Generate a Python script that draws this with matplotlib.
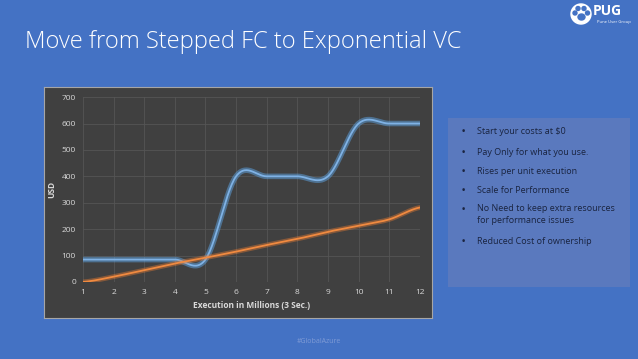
import numpy as np
import matplotlib
matplotlib.use("Agg")
import matplotlib.pyplot as plt
import matplotlib.patheffects as pe
from matplotlib.patches import Circle, Ellipse

plt.rcParams['font.family'] = ['Open Sans', 'DejaVu Sans']

# data
executions = [1, 2, 3, 4, 5, 6, 7, 8, 9, 10, 11, 12]
fixed_cost = [85, 85, 85, 85, 85, 400, 400, 400, 400, 600, 600, 600]
variable_cost = [0, 20, 45, 70, 92, 115, 140, 163, 190, 213, 237, 282]
y_ticks = [0, 100, 200, 300, 400, 500, 600, 700]
bullets = [
    "Start your costs at $0",
    "Pay Only for what you use.",
    "Rises per unit execution",
    "Scale for Performance",
    "No Need to keep extra resources\nfor performance issues",
    "Reduced Cost of ownership",
]

BG = "#4472C4"


def smooth(x, y, n=30):
    # excel style smoothed line (catmull-rom through the points)
    x = np.asarray(x, float)
    y = np.asarray(y, float)
    px = np.concatenate([[2 * x[0] - x[1]], x, [2 * x[-1] - x[-2]]])
    py = np.concatenate([[y[0]], y, [y[-1]]])
    xs, ys = [], []
    t = np.linspace(0, 1, n)
    for i in range(1, len(px) - 2):
        p0, p1, p2, p3 = py[i - 1], py[i], py[i + 1], py[i + 2]
        m1 = (p2 - p0) / 2
        m2 = (p3 - p1) / 2
        h00 = 2 * t**3 - 3 * t**2 + 1
        h10 = t**3 - 2 * t**2 + t
        h01 = -2 * t**3 + 3 * t**2
        h11 = t**3 - t**2
        ys.append(h00 * p1 + h10 * m1 + h01 * p2 + h11 * m2)
        xs.append(px[i] + t * (px[i + 1] - px[i]))
    return np.concatenate(xs), np.concatenate(ys)


fig = plt.figure(figsize=(6.38, 3.59), dpi=100, facecolor=BG)

fig.text(0.039, 0.883, "Move from Stepped FC to Exponential VC", color="white",
         fontsize=17.1, va="center", ha="left", fontweight="light")

# logo (pixel coords via an axes that covers the top right corner)
logo = fig.add_axes([560 / 638, 1 - 32 / 359, 78 / 638, 32 / 359])
logo.axis("off")
logo.set_xlim(560, 638)
logo.set_ylim(32, 0)
logo.add_patch(Circle((581, 14), 10, color="white"))
logo.add_patch(Ellipse((581.5, 17), 7, 6, color=BG))
for cx, cy in [(575, 13), (578, 8.5), (584, 8.5), (587.5, 13)]:
    logo.add_patch(Circle((cx, cy), 2.0, color=BG))
logo.text(593, 11, "PUG", color="white", fontsize=10, fontweight="bold", va="center")
logo.text(597, 22, "Pune User Group", color="white", fontsize=3, va="center")

# chart frame
frame = fig.add_axes([0.069, 0.114, 0.608, 0.643])
frame.set_facecolor("#404040")
frame.set_xticks([])
frame.set_yticks([])
for s in frame.spines.values():
    s.set_color("#A6A6A6")
    s.set_linewidth(0.8)

ax = fig.add_axes([0.130, 0.2145, 0.528, 0.515])
ax.patch.set_alpha(0)
ax.set_xlim(1, 12)
ax.set_ylim(0, 700)
ax.set_xticks(executions)
ax.set_yticks(y_ticks)
ax.grid(True, color="#555555", linewidth=0.6)
ax.set_axisbelow(True)
for s in ax.spines.values():
    s.set_visible(False)
ax.tick_params(length=0, colors="#D9D9D9", labelsize=6, pad=5)

fx, fy = smooth(executions, fixed_cost)
vx, vy = smooth(executions, variable_cost)
ax.plot(fx, fy, color="#7FB2E5", linewidth=1.3, solid_capstyle="round",
        path_effects=[pe.Stroke(linewidth=4, foreground="#5B9BD5", alpha=0.55), pe.Normal()])
ax.plot(vx, vy, color="#F08A40", linewidth=1.3, solid_capstyle="round",
        path_effects=[pe.Stroke(linewidth=3.5, foreground="#ED7D31", alpha=0.4), pe.Normal()])

ax.set_xlabel("Execution in Millions (3 Sec.)", color="#D9D9D9", fontsize=6,
              fontweight="bold", labelpad=4)
ax.set_ylabel("USD", color="#D9D9D9", fontsize=6, fontweight="bold", labelpad=4)

# side panel
panel = fig.add_axes([0.702, 0.2, 0.285, 0.471])
panel.set_facecolor("#5A79BE")
panel.set_xticks([])
panel.set_yticks([])
for s in panel.spines.values():
    s.set_visible(False)
panel.set_xlim(0, 182)
panel.set_ylim(169, 0)
ypos = [13, 34, 53, 72, 91, 123]
for yy, txt in zip(ypos, bullets):
    panel.text(14, yy, "•", color="#1A2440", fontsize=6.5, va="center", fontweight="bold")
    panel.text(29, yy - 5 if "\n" in txt else yy, txt, color="#1A2440", fontsize=6.5,
               va="top" if "\n" in txt else "center", linespacing=1.45)

fig.text(0.5, 0.05, "#GlobalAzure", color="#7F9BD6", fontsize=5, ha="center", va="center")

plt.savefig("out.png", dpi=100, facecolor=BG)
